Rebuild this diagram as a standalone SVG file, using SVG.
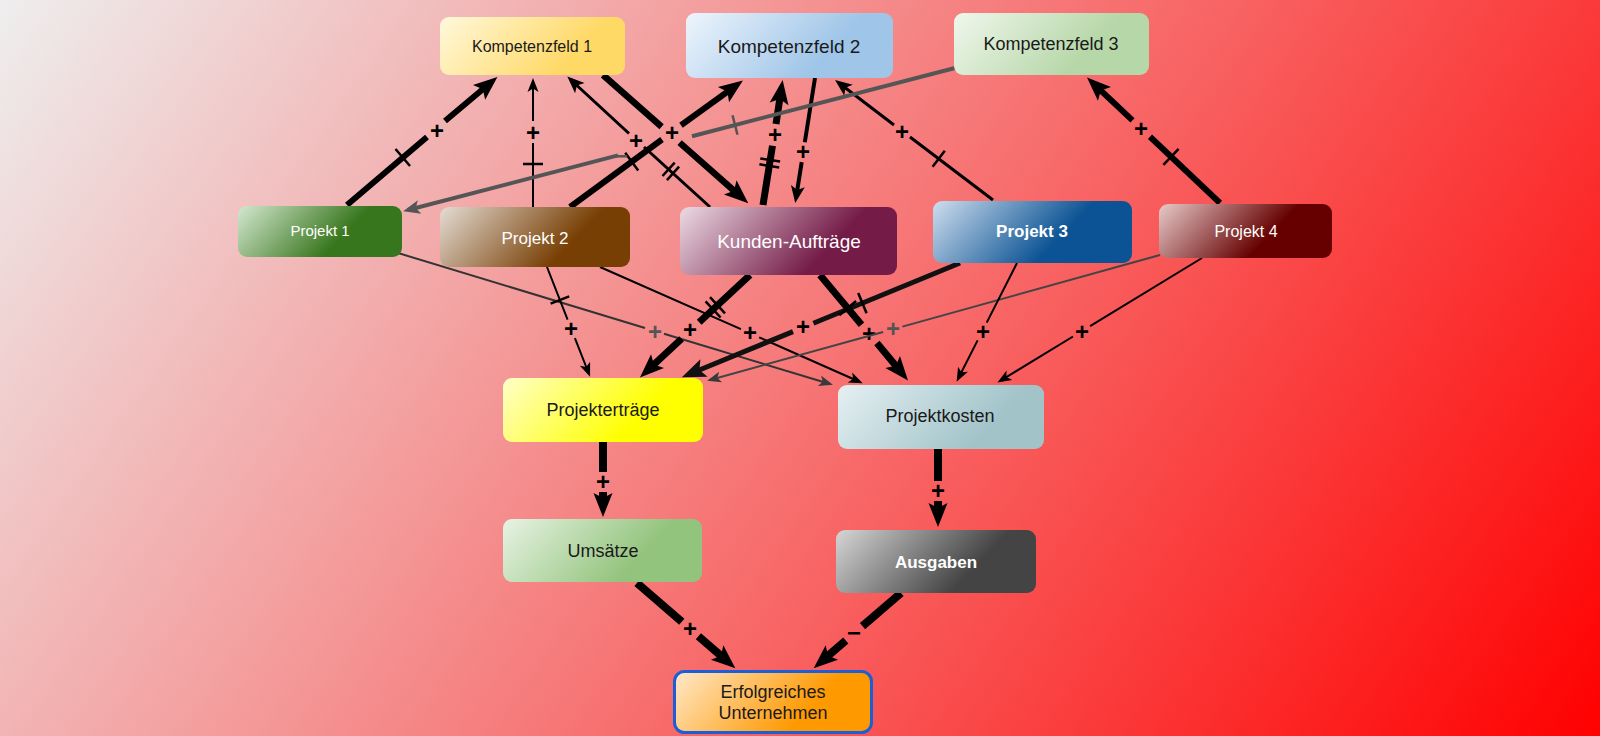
<svg xmlns="http://www.w3.org/2000/svg" width="1600" height="736" viewBox="0 0 1600 736">
<defs>
<linearGradient id="bg" gradientUnits="userSpaceOnUse" x1="0" y1="0" x2="1420" y2="994"><stop offset="0" stop-color="#eeeeee"/><stop offset="1" stop-color="#ff0000"/></linearGradient>
<linearGradient id="gK1" x1="0" y1="0" x2="1" y2="0.3"><stop offset="0" stop-color="#fff8dc"/><stop offset="0.85" stop-color="#ffd966"/></linearGradient>
<linearGradient id="gK2" x1="0" y1="0" x2="1" y2="0.3"><stop offset="0" stop-color="#eef5fc"/><stop offset="0.8" stop-color="#9fc5e8"/></linearGradient>
<linearGradient id="gK3" x1="0" y1="0" x2="1" y2="0.3"><stop offset="0" stop-color="#f0f7ed"/><stop offset="0.8" stop-color="#b6d7a8"/></linearGradient>
<linearGradient id="gP1" x1="0" y1="0" x2="1" y2="0.3"><stop offset="0" stop-color="#d4e8d0"/><stop offset="0.75" stop-color="#38761d"/></linearGradient>
<linearGradient id="gP2" x1="0" y1="0" x2="1" y2="0.3"><stop offset="0" stop-color="#e4dcd4"/><stop offset="0.8" stop-color="#783f04"/></linearGradient>
<linearGradient id="gKA" x1="0" y1="0" x2="1" y2="0.3"><stop offset="0" stop-color="#ecdbe4"/><stop offset="0.8" stop-color="#741b47"/></linearGradient>
<linearGradient id="gP3" x1="0" y1="0" x2="1" y2="0.3"><stop offset="0" stop-color="#cfdeee"/><stop offset="0.75" stop-color="#0b5394"/></linearGradient>
<linearGradient id="gP4" x1="0" y1="0" x2="1" y2="0.3"><stop offset="0" stop-color="#e8caca"/><stop offset="0.75" stop-color="#660000"/></linearGradient>
<linearGradient id="gPE" x1="0" y1="0" x2="1" y2="0.3"><stop offset="0" stop-color="#ffffc8"/><stop offset="0.8" stop-color="#ffff00"/></linearGradient>
<linearGradient id="gPK" x1="0" y1="0" x2="1" y2="0.3"><stop offset="0" stop-color="#e6f0f2"/><stop offset="0.85" stop-color="#a2c4c9"/></linearGradient>
<linearGradient id="gU" x1="0" y1="0" x2="1" y2="0.3"><stop offset="0" stop-color="#e8f3e4"/><stop offset="0.8" stop-color="#93c47d"/></linearGradient>
<linearGradient id="gA" x1="0" y1="0" x2="1" y2="0.3"><stop offset="0" stop-color="#d6d6d6"/><stop offset="0.8" stop-color="#444444"/></linearGradient>
<linearGradient id="gE" x1="0" y1="0" x2="1" y2="0.3"><stop offset="0" stop-color="#ffe9cc"/><stop offset="0.8" stop-color="#ff9900"/></linearGradient>
<marker id="aS" markerUnits="userSpaceOnUse" markerWidth="20" markerHeight="20" refX="11" refY="0" orient="auto" overflow="visible"><path d="M0,-5.5 L14,0 L0,5.5 L3.5,0 Z" fill="#000"/></marker>
<marker id="aSg" markerUnits="userSpaceOnUse" markerWidth="20" markerHeight="20" refX="11" refY="0" orient="auto" overflow="visible"><path d="M0,-5.5 L14,0 L0,5.5 L3.5,0 Z" fill="#3a3a3a"/></marker>
<marker id="aM" markerUnits="userSpaceOnUse" markerWidth="20" markerHeight="20" refX="12" refY="0" orient="auto" overflow="visible"><path d="M0,-7 L17,0 L0,7 L4,0 Z" fill="#000"/></marker>
<marker id="aMg" markerUnits="userSpaceOnUse" markerWidth="20" markerHeight="20" refX="12" refY="0" orient="auto" overflow="visible"><path d="M0,-7 L17,0 L0,7 L4,0 Z" fill="#555"/></marker>
<marker id="aL" markerUnits="userSpaceOnUse" markerWidth="30" markerHeight="30" refX="13" refY="0" orient="auto" overflow="visible"><path d="M0,-9.5 L24,0 L0,9.5 L5,0 Z" fill="#000"/></marker>
<marker id="aLd" markerUnits="userSpaceOnUse" markerWidth="30" markerHeight="30" refX="13" refY="0" orient="auto" overflow="visible"><path d="M0,-9.5 L24,0 L0,9.5 L5,0 Z" fill="#111"/></marker>
</defs>
<style>
.e{fill:none;stroke:#000}
.t{stroke:#000;stroke-width:2.5;fill:none}
.pl{font-family:"Liberation Sans",Arial,sans-serif;font-size:24px;font-weight:bold;text-anchor:middle;dominant-baseline:central;fill:#000}
.plg{fill:#555}
.n{font-family:"Liberation Sans",Arial,sans-serif;text-anchor:middle;dominant-baseline:central}
.dk{fill:#1a1a1a}
.wh{fill:#ffffff}
</style>
<rect x="0" y="0" width="1600" height="736" fill="url(#bg)"/>
<g id="connectors">
 <g id="e-p1-k1"><path class="e" stroke-width="6" d="M347,205 L427,137 M445,121 L489,84" marker-end="url(#aL)"/><line class="t" x1="395.5" y1="149" x2="410" y2="166"/><text class="pl" x="437" y="130">+</text></g>
 <g id="e-p2-k1"><path class="e" stroke-width="2" d="M533,207 L533,143 M533,121 L533,81" marker-end="url(#aS)"/><line class="t" x1="523" y1="164" x2="543" y2="164"/><text class="pl" x="533" y="132">+</text></g>
 <g id="e-ka-k1"><path class="e" stroke-width="3" d="M710,207 L644,147 M629,133.5 L571,80" marker-end="url(#aM)"/><line class="t" x1="666.9" y1="180.1" x2="679.1" y2="166.7"/><line class="t" x1="662.5" y1="176" x2="674.7" y2="162.6"/><text class="pl" x="636" y="140">+</text></g>
 <g id="e-k1-ka"><path class="e" stroke-width="6.5" d="M603,75 L661.6,126.7 M679.6,142.6 L740,196" marker-end="url(#aL)"/></g>
 <g id="e-p2-k2"><path class="e" stroke-width="6" d="M570,207 L662,139.5 M681,125.3 L734,87" marker-end="url(#aL)"/><line class="t" x1="625.2" y1="152.8" x2="638.2" y2="170.6"/><text class="pl" x="672" y="132">+</text></g>
 <g id="e-ka-k2"><path class="e" stroke-width="7" d="M763,205 L772.5,145.7 M776,124 L781,91" marker-end="url(#aL)"/><line class="t" x1="759.4" y1="164.3" x2="779.2" y2="167.5"/><line class="t" x1="760.3" y1="158.4" x2="780.1" y2="161.6"/><text class="pl" x="775" y="134">+</text></g>
 <g id="e-k2-ka"><path class="e" stroke-width="4" d="M815,78 L804.8,142.3 M801.7,162.1 L796,198" marker-end="url(#aM)"/><text class="pl" x="803" y="151">+</text></g>
 <g id="e-p3-k2"><path class="e" stroke-width="3" d="M993,200 L910,137 M894,125 L839,83" marker-end="url(#aM)"/><line class="t" x1="932.6" y1="166.7" x2="944.8" y2="150.7"/><text class="pl" x="902" y="131">+</text></g>
 <g id="e-p4-k3"><path class="e" stroke-width="6" d="M1220,203 L1150,136.8 M1132.5,120.4 L1095,85" marker-end="url(#aL)"/><line class="t" x1="1163.4" y1="164.8" x2="1178.6" y2="148.8"/><text class="pl" x="1141" y="128">+</text></g>
 <g id="e-k3-p1"><path class="e" style="stroke:#555" stroke-width="4" d="M955,68 L692,136.2 M618,155.4 L408,210" marker-end="url(#aMg)"/><line class="t" style="stroke:#555" x1="732.5" y1="115.3" x2="737.5" y2="134.7"/><text class="pl plg" x="621" y="155" font-size="18">−</text></g>
 <g id="e-p1-pk"><path class="e" style="stroke:#333" stroke-width="2" d="M398,253 L645,328 M664,333.8 L830,384" marker-end="url(#aSg)"/><text class="pl plg" x="655" y="331">+</text></g>
 <g id="e-p2-pe"><path class="e" stroke-width="2" d="M547,267 L567.6,319.6 M574.9,338.2 L589,374" marker-end="url(#aS)"/><line class="t" x1="550.6" y1="303.7" x2="569.2" y2="296.4"/><text class="pl" x="571" y="328">+</text></g>
 <g id="e-p2-pk"><path class="e" stroke-width="2" d="M600,267 L740.9,329.2 M759.2,337.3 L860,382" marker-end="url(#aS)"/><text class="pl" x="750" y="332">+</text></g>
 <g id="e-ka-pe"><path class="e" stroke-width="7" d="M750,275 L699.2,322.3 M681.6,338.7 L648,370" marker-end="url(#aL)"/><line class="t" x1="710" y1="297.2" x2="725" y2="313.4"/><line class="t" x1="705.6" y1="301.3" x2="720.6" y2="317.5"/><text class="pl" x="690" y="329">+</text></g>
 <g id="e-p3-pe"><path class="e" style="stroke:#111" stroke-width="5" d="M960,263 L813.4,323.2 M793,331.6 L692,373" marker-end="url(#aLd)"/><line class="t" x1="858.2" y1="292.9" x2="866.6" y2="313.3"/><text class="pl" x="803" y="326">+</text></g>
 <g id="e-ka-pk"><path class="e" stroke-width="7" d="M820,275 L861.5,324.7 M876.9,343.1 L901,372" marker-end="url(#aL)"/><line class="t" x1="839.3" y1="315.2" x2="856.1" y2="301"/><text class="pl" x="869" y="333">+</text></g>
 <g id="e-p4-pe"><path class="e" style="stroke:#444" stroke-width="2" d="M1160,255 L902.4,326.6 M883.1,332 L710,380" marker-end="url(#aSg)"/><text class="pl plg" x="893" y="328">+</text></g>
 <g id="e-p3-pk"><path class="e" stroke-width="2" d="M1017,263 L986.7,322.6 M977.6,340.4 L958,379" marker-end="url(#aS)"/><text class="pl" x="983" y="331">+</text></g>
 <g id="e-p4-pk"><path class="e" stroke-width="2" d="M1202,258 L1090.1,326.1 M1073,336.5 L1000,381" marker-end="url(#aS)"/><text class="pl" x="1082" y="331">+</text></g>
 <g id="e-pe-u"><path class="e" stroke-width="8" d="M603,442 L603,472 M603,492 L603,506" marker-end="url(#aL)"/><text class="pl" x="603" y="481">+</text></g>
 <g id="e-pk-a"><path class="e" stroke-width="8" d="M938,449 L938,481 M938,501 L938,516" marker-end="url(#aL)"/><text class="pl" x="938" y="490">+</text></g>
 <g id="e-u-e"><path class="e" stroke-width="8" d="M637,583 L681.8,621.8 M698.4,636.3 L727,661" marker-end="url(#aL)"/><text class="pl" x="690" y="628">+</text></g>
 <g id="e-a-e"><path class="e" stroke-width="8" d="M901,593 L862.5,626.1 M845.8,640.5 L822,661" marker-end="url(#aL)"/><text class="pl" x="854" y="632">−</text></g>
</g>
<g id="n-k1"><rect x="440" y="17" width="185" height="58" rx="9" fill="url(#gK1)"/><text class="n dk" x="532" y="46" font-size="16">Kompetenzfeld 1</text></g>
<g id="n-k2"><rect x="686" y="13" width="207" height="65" rx="9" fill="url(#gK2)"/><text class="n dk" x="789" y="46" font-size="19">Kompetenzfeld 2</text></g>
<g id="n-k3"><rect x="954" y="13" width="195" height="62" rx="9" fill="url(#gK3)"/><text class="n dk" x="1051" y="44" font-size="18">Kompetenzfeld 3</text></g>
<g id="n-p1"><rect x="238" y="206" width="164" height="51" rx="9" fill="url(#gP1)"/><text class="n wh" x="320" y="230" font-size="15">Projekt 1</text></g>
<g id="n-p2"><rect x="440" y="207" width="190" height="60" rx="9" fill="url(#gP2)"/><text class="n wh" x="535" y="238" font-size="17">Projekt 2</text></g>
<g id="n-ka"><rect x="680" y="207" width="217" height="68" rx="9" fill="url(#gKA)"/><text class="n wh" x="789" y="241" font-size="19">Kunden-Aufträge</text></g>
<g id="n-p3"><rect x="933" y="201" width="199" height="62" rx="9" fill="url(#gP3)"/><text class="n wh" x="1032" y="231" font-size="17" font-weight="bold">Projekt 3</text></g>
<g id="n-p4"><rect x="1159" y="204" width="173" height="54" rx="9" fill="url(#gP4)"/><text class="n wh" x="1246" y="231" font-size="16">Projekt 4</text></g>
<g id="n-pe"><rect x="503" y="378" width="200" height="64" rx="9" fill="url(#gPE)"/><text class="n dk" x="603" y="410" font-size="18">Projekterträge</text></g>
<g id="n-pk"><rect x="838" y="385" width="206" height="64" rx="9" fill="url(#gPK)"/><text class="n dk" x="940" y="416" font-size="18">Projektkosten</text></g>
<g id="n-u"><rect x="503" y="519" width="199" height="63" rx="9" fill="url(#gU)"/><text class="n dk" x="603" y="551" font-size="18">Umsätze</text></g>
<g id="n-a"><rect x="836" y="530" width="200" height="63" rx="9" fill="url(#gA)"/><text class="n wh" x="936" y="562" font-size="17" font-weight="bold">Ausgaben</text></g>
<g id="n-e"><rect x="674.5" y="671.5" width="197" height="61" rx="10" fill="url(#gE)" stroke="#1a5fd8" stroke-width="3"/><text class="n dk" x="773" y="692" font-size="18">Erfolgreiches</text><text class="n dk" x="773" y="713" font-size="18">Unternehmen</text></g>
</svg>
